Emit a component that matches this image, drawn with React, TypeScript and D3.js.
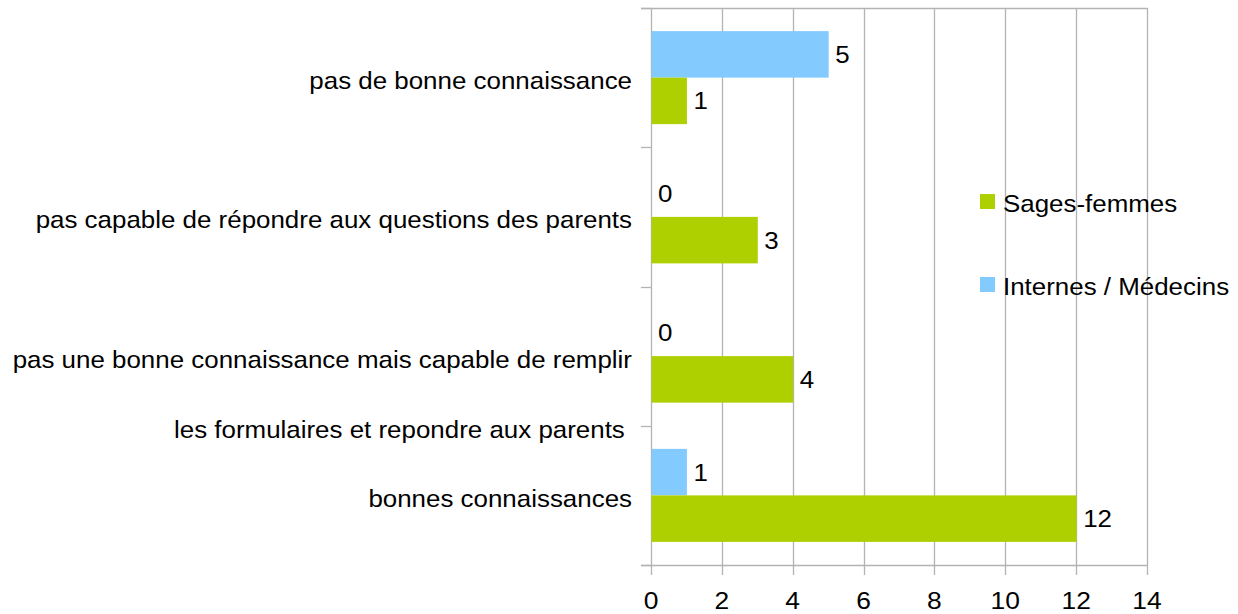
import React from "react";
import * as d3 from "d3";

const categories: string[][] = [
  ["pas de bonne connaissance"],
  ["pas capable de répondre aux questions des parents"],
  ["pas une bonne connaissance mais capable de remplir", "les formulaires et repondre aux parents "],
  ["bonnes connaissances"],
];
const seriesNames = ["Internes / Médecins", "Sages-femmes"];
const internes = [5, 0, 0, 1];
const sagesFemmes = [1, 3, 4, 12];
const xTicks = [0, 2, 4, 6, 8, 10, 12, 14];
const colors: Record<string, string> = {
  "Internes / Médecins": "#83caff",
  "Sages-femmes": "#aecf00",
};
const legendOrder = ["Sages-femmes", "Internes / Médecins"];

const W = 1238;
const H = 614;
const left = 651;
const right = 1147;
const top = 8;
const bottom = 565;
const FONT = "'Liberation Sans', Arial, sans-serif";
const GRID = "#b3b3b3";
const SX = 1.08;

export default function App() {
  const x = d3.scaleLinear().domain([0, 14]).range([left, right]);
  const keys = categories.map((_, i) => String(i));
  const y = d3.scaleBand<string>().domain(keys).range([top, bottom]).padding(0);
  const inner = d3
    .scaleBand<string>()
    .domain(seriesNames)
    .range([0, y.bandwidth()])
    .paddingInner(0)
    .paddingOuter(0.497);
  const values: Record<string, number[]> = {
    "Internes / Médecins": internes,
    "Sages-femmes": sagesFemmes,
  };

  const boundaries = keys.map((k) => y(k)!).concat([bottom]);

  return (
    <svg
      width={W}
      height={H}
      style={{ position: "absolute", left: 0, top: 0, background: "#fff" }}
      fontFamily={FONT}
    >
      <rect x={0} y={0} width={W} height={H} fill="#fff" />
      {xTicks.map((t) => (
        <line
          key={"g" + t}
          x1={Math.round(x(t)) + 0.5}
          x2={Math.round(x(t)) + 0.5}
          y1={top}
          y2={bottom + 10}
          stroke={GRID}
          strokeWidth={1.3}
        />
      ))}
      <line x1={left - 10} x2={right + 0.5} y1={top + 0.5} y2={top + 0.5} stroke={GRID} strokeWidth={1.3} />
      <line x1={left - 10} x2={right + 0.5} y1={bottom + 0.5} y2={bottom + 0.5} stroke={GRID} strokeWidth={1.3} />
      {boundaries.map((b, i) => (
        <line
          key={"t" + i}
          x1={left - 10}
          x2={left}
          y1={Math.round(b) + 0.5}
          y2={Math.round(b) + 0.5}
          stroke={GRID}
          strokeWidth={1.3}
        />
      ))}
      {keys.map((k, i) =>
        seriesNames.map((s) => {
          const v = values[s][i];
          const yy = y(k)! + inner(s)!;
          return (
            <g key={k + s}>
              {v > 0 && (
                <rect
                  x={x(0) + 0.5}
                  y={yy}
                  width={x(v) - x(0)}
                  height={inner.bandwidth()}
                  fill={colors[s]}
                />
              )}
              <text
                transform={`translate(${x(v) + 7}, ${yy + inner.bandwidth() / 2 + 8.5}) scale(${SX},1)`}
                fontSize={24}
                fill="#000"
              >
                {v}
              </text>
            </g>
          );
        })
      )}
      {keys.map((k, i) =>
        categories[i].map((line, j) => (
          <text
            key={k + "l" + j}
            transform={`translate(632, ${y(k)! + y.bandwidth() / 2 + 11.5 + j * 70}) scale(${SX},1)`}
            fontSize={24}
            textAnchor="end"
            fill="#000"
            style={{ whiteSpace: "pre" }}
          >
            {line}
          </text>
        ))
      )}
      {xTicks.map((t) => (
        <text
          key={"x" + t}
          transform={`translate(${x(t)}, 608.5) scale(1.1,1)`}
          fontSize={24}
          textAnchor="middle"
          fill="#000"
        >
          {t}
        </text>
      ))}
      {legendOrder.map((s, i) => (
        <g key={"lg" + s} transform={`translate(980, ${194 + i * 83})`}>
          <rect x={0} y={0} width={15} height={15} fill={colors[s]} />
          <text transform={`translate(23, 17.5) scale(${SX},1)`} fontSize={24} fill="#000">
            {s}
          </text>
        </g>
      ))}
    </svg>
  );
}
